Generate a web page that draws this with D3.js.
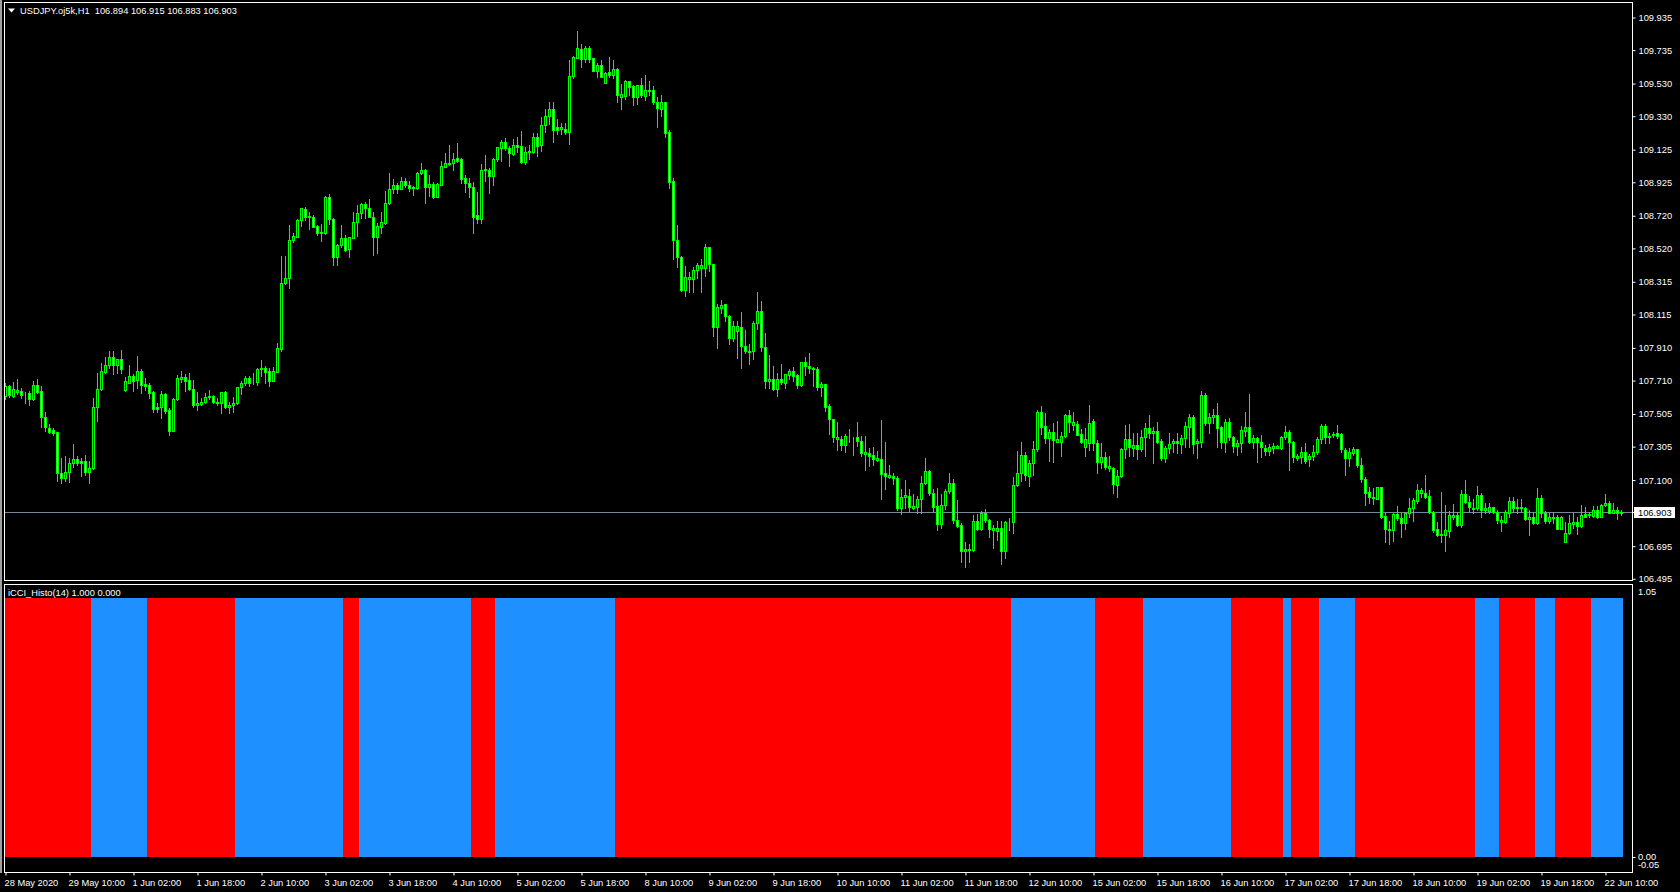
<!DOCTYPE html>
<html><head><meta charset="utf-8">
<script src="https://cdn.jsdelivr.net/npm/d3@7"></script>
<style>html,body{margin:0;padding:0;background:#000;overflow:hidden}svg text{font-family:"Liberation Sans",Arial,sans-serif;font-size:9.3px;white-space:pre}</style>
</head><body>
<svg id="c" width="1680" height="892"></svg>
<script>
// ---------- data ----------
const symbolTitle = "USDJPY.oj5k,H1";
const lastOHLC = [106.894, 106.915, 106.883, 106.903];
const currentPrice = 106.903;
const indicatorName = "iCCI_Histo(14)";
const indicatorValues = [1.000, 0.000];
// [open, high, low, close], one row per H1 bar, 28 May 2020 18:00 .. 22 Jun 2020 14:00
const ohlc = [
[107.613,107.690,107.592,107.674],[107.674,107.680,107.608,107.616],[107.612,107.696,107.604,107.655],[107.639,107.716,107.624,107.649],
[107.641,107.659,107.598,107.616],[107.618,107.639,107.567,107.620],[107.631,107.645,107.559,107.592],[107.592,107.704,107.588,107.680],
[107.680,107.716,107.629,107.639],[107.641,107.674,107.425,107.482],[107.482,107.513,107.400,107.420],[107.414,107.439,107.384,107.394],
[107.404,107.414,107.373,107.388],[107.390,107.394,107.094,107.139],[107.139,107.231,107.077,107.108],[107.108,107.245,107.094,107.145],
[107.145,107.231,107.088,107.200],[107.200,107.318,107.179,107.226],[107.226,107.247,107.190,107.200],[107.216,107.235,107.124,107.200],
[107.214,107.251,107.128,107.145],[107.145,107.214,107.081,107.169],[107.169,107.598,107.165,107.547],[107.543,107.751,107.461,107.655],
[107.655,107.813,107.649,107.766],[107.762,107.850,107.756,107.803],[107.803,107.888,107.782,107.850],[107.850,107.888,107.745,107.801],
[107.801,107.841,107.751,107.837],[107.837,107.894,107.751,107.776],[107.649,107.727,107.643,107.704],[107.694,107.803,107.690,107.735],
[107.735,107.747,107.645,107.706],[107.710,107.858,107.664,107.766],[107.766,107.778,107.633,107.680],[107.686,107.723,107.649,107.674],
[107.680,107.694,107.598,107.629],[107.635,107.643,107.516,107.531],[107.545,107.567,107.516,107.531],[107.547,107.643,107.480,107.623],
[107.623,107.629,107.506,107.523],[107.527,107.541,107.373,107.400],[107.400,107.598,107.396,107.592],[107.592,107.741,107.588,107.721],
[107.719,107.766,107.698,107.727],[107.727,107.745,107.643,107.706],[107.710,107.751,107.649,107.655],[107.653,107.710,107.543,107.557],
[107.555,107.637,107.527,107.567],[107.563,107.598,107.557,107.578],[107.574,107.629,107.567,107.604],[107.604,107.649,107.596,107.612],
[107.612,107.616,107.567,107.578],[107.578,107.598,107.557,107.570],[107.572,107.637,107.510,107.635],[107.635,107.643,107.537,107.543],
[107.547,107.578,107.510,107.557],[107.557,107.608,107.516,107.567],[107.567,107.670,107.563,107.666],[107.666,107.706,107.625,107.690],
[107.690,107.735,107.680,107.721],[107.721,107.735,107.674,107.694],[107.694,107.751,107.686,107.690],[107.698,107.786,107.680,107.776],
[107.780,107.833,107.735,107.786],[107.782,107.798,107.694,107.762],[107.768,107.782,107.674,107.706],[107.706,107.788,107.702,107.766],
[107.762,107.935,107.758,107.905],[107.899,108.471,107.890,108.303],[108.303,108.471,108.299,108.334],[108.334,108.661,108.274,108.569],
[108.569,108.610,108.558,108.593],[108.589,108.699,108.585,108.691],[108.691,108.767,108.654,108.763],[108.759,108.773,108.691,108.708],
[108.716,108.740,108.638,108.710],[108.708,108.722,108.646,108.650],[108.654,108.661,108.599,108.614],[108.610,108.667,108.565,108.616],
[108.610,108.838,108.606,108.830],[108.830,108.851,108.667,108.695],[108.695,108.701,108.416,108.462],[108.462,108.544,108.416,108.536],
[108.536,108.661,108.528,108.579],[108.579,108.599,108.501,108.507],[108.511,108.589,108.467,108.585],[108.583,108.742,108.579,108.677],
[108.677,108.783,108.595,108.736],[108.736,108.797,108.701,108.787],[108.787,108.799,108.701,108.763],[108.763,108.820,108.708,108.708],
[108.708,108.742,108.477,108.585],[108.585,108.675,108.491,108.654],[108.650,108.742,108.614,108.677],[108.675,108.869,108.665,108.793],
[108.793,108.977,108.789,108.879],[108.879,108.940,108.855,108.904],[108.904,108.920,108.855,108.883],[108.883,108.957,108.879,108.930],
[108.932,108.947,108.896,108.904],[108.904,108.932,108.869,108.885],[108.885,108.902,108.847,108.891],[108.889,108.983,108.883,108.977],
[108.977,109.038,108.973,108.998],[108.998,109.002,108.797,108.896],[108.896,108.967,108.838,108.914],[108.914,108.926,108.828,108.834],
[108.834,108.916,108.830,108.912],[108.908,109.053,108.904,109.022],[109.018,109.100,109.014,109.039],[109.037,109.151,109.028,109.043],
[109.039,109.104,108.998,109.063],[109.069,109.161,109.049,109.055],[109.063,109.069,108.916,108.945],[108.947,108.967,108.863,108.920],
[108.920,108.947,108.830,108.891],[108.891,108.926,108.614,108.712],[108.722,108.865,108.671,108.695],[108.695,109.034,108.675,108.998],
[108.998,109.090,108.932,109.004],[108.998,109.008,108.859,108.963],[108.963,109.069,108.906,109.065],[109.063,109.141,109.055,109.137],
[109.130,109.182,109.055,109.171],[109.171,109.192,109.120,109.130],[109.130,109.145,109.022,109.100],[109.096,109.186,109.090,109.151],
[109.151,109.198,109.110,109.141],[109.145,109.237,109.039,109.049],[109.049,109.141,109.034,109.110],[109.106,109.151,109.063,109.114],
[109.110,109.227,109.104,109.202],[109.202,109.227,109.083,109.145],[109.149,109.321,109.116,109.271],[109.275,109.374,109.230,109.331],
[109.331,109.417,109.280,109.370],[109.370,109.413,109.166,109.241],[109.258,109.310,109.215,109.241],[109.250,109.288,109.215,109.258],
[109.247,109.284,109.220,109.228],[109.228,109.671,109.159,109.574],[109.574,109.699,109.559,109.688],[109.686,109.849,109.682,109.742],
[109.740,109.768,109.628,109.677],[109.680,109.757,109.660,109.748],[109.748,109.757,109.660,109.677],[109.682,109.686,109.602,109.607],
[109.607,109.654,109.568,109.639],[109.639,109.671,109.568,109.570],[109.531,109.596,109.531,109.591],[109.596,109.688,109.568,109.579],
[109.579,109.671,109.559,109.615],[109.615,109.622,109.413,109.456],[109.447,109.525,109.374,109.462],[109.452,109.546,109.435,109.542],
[109.542,109.542,109.456,109.508],[109.512,109.521,109.396,109.445],[109.445,109.521,109.402,109.516],[109.516,109.559,109.445,109.456],
[109.452,109.579,109.428,109.486],[109.484,109.542,109.456,109.488],[109.486,109.510,109.402,109.413],[109.417,109.445,109.262,109.379],
[109.374,109.456,109.331,109.413],[109.413,109.413,109.198,109.226],[109.230,109.241,108.886,108.925],[108.929,108.946,108.452,108.566],
[108.566,108.661,108.403,108.467],[108.467,108.471,108.256,108.263],[108.263,108.407,108.224,108.342],[108.327,108.370,108.252,108.342],
[108.327,108.403,108.252,108.387],[108.387,108.430,108.338,108.413],[108.398,108.450,108.252,108.413],[108.398,108.542,108.349,108.525],
[108.525,108.525,108.381,108.420],[108.420,108.424,107.979,108.033],[108.033,108.177,107.908,108.155],[108.153,108.203,108.123,108.170],
[108.175,108.175,108.069,108.102],[108.102,108.110,107.934,107.966],[107.966,108.071,107.951,108.041],[108.011,108.069,107.844,108.041],
[108.036,108.127,107.786,107.917],[107.919,108.016,107.876,107.887],[107.884,107.930,107.811,107.891],[107.887,108.069,107.837,108.059],
[108.059,108.248,108.020,108.134],[108.134,108.194,107.887,107.912],[107.912,107.998,107.661,107.702],[107.702,107.861,107.661,107.715],
[107.715,107.796,107.646,107.656],[107.656,107.753,107.611,107.715],[107.715,107.811,107.684,107.697],[107.693,107.747,107.661,107.745],
[107.742,107.779,107.715,107.766],[107.766,107.790,107.704,107.736],[107.742,107.747,107.661,107.682],[107.678,107.818,107.676,107.818],
[107.818,107.854,107.740,107.796],[107.796,107.876,107.753,107.783],[107.783,107.790,107.672,107.775],[107.779,107.790,107.650,107.665],
[107.665,107.697,107.611,107.687],[107.687,107.687,107.521,107.547],[107.549,107.564,107.381,107.469],[107.469,107.469,107.332,107.360],
[107.347,107.452,107.280,107.360],[107.349,107.366,107.280,107.310],[107.312,107.381,107.272,107.366],[107.358,107.409,107.328,107.364],
[107.360,107.360,107.252,107.358],[107.358,107.452,107.306,107.336],[107.338,107.366,107.246,107.263],[107.259,107.366,107.160,107.270],
[107.263,107.295,107.181,107.246],[107.248,107.302,107.192,107.224],[107.220,107.274,107.216,107.231],[107.224,107.465,106.984,107.134],
[107.138,107.332,107.044,107.123],[107.113,107.188,107.108,107.128],[107.121,107.138,107.070,107.108],[107.108,107.123,106.915,106.928],
[106.928,107.044,106.891,106.994],[106.994,107.095,106.923,107.005],[106.999,107.042,106.904,106.930],[106.923,107.009,106.919,106.936],
[106.930,107.001,106.893,106.979],[106.979,107.123,106.893,107.080],[107.080,107.231,107.074,107.151],[107.151,107.156,107.005,107.016],
[107.016,107.044,106.902,106.934],[106.936,107.048,106.790,106.829],[106.829,107.009,106.801,106.945],[106.945,107.044,106.919,107.031],
[107.027,107.138,107.016,107.080],[107.082,107.102,106.833,106.854],[106.854,106.973,106.807,106.816],[106.822,106.833,106.592,106.661],
[106.661,106.715,106.564,106.674],[106.667,106.704,106.597,106.676],[106.670,106.880,106.661,106.844],[106.844,106.887,106.790,106.797],
[106.797,106.908,106.790,106.898],[106.898,106.919,106.837,106.850],[106.850,106.859,106.751,106.797],[106.794,106.822,106.683,106.801],
[106.786,106.844,106.730,106.805],[106.801,106.844,106.584,106.665],[106.665,106.846,106.622,106.837],[106.837,106.865,106.790,106.842],
[106.842,107.113,106.773,107.065],[107.065,107.274,107.059,107.138],[107.138,107.328,107.091,107.250],[107.250,107.267,107.097,107.130],
[107.123,107.220,107.059,107.203],[107.203,107.338,107.130,107.289],[107.285,107.525,107.274,107.515],[107.515,107.551,107.381,107.424],
[107.429,107.510,107.323,107.355],[107.355,107.413,107.216,107.392],[107.392,107.446,107.209,107.345],[107.332,107.456,107.328,107.349],
[107.332,107.392,107.246,107.366],[107.366,107.504,107.360,107.495],[107.495,107.525,107.392,107.450],[107.435,107.515,107.403,107.450],
[107.439,107.456,107.371,107.375],[107.379,107.408,107.322,107.332],[107.300,107.414,107.244,107.346],[107.322,107.557,107.281,107.444],
[107.461,107.469,107.281,107.322],[107.322,107.342,107.142,107.209],[107.209,107.326,107.169,107.236],[107.236,107.271,107.162,107.175],
[107.169,107.244,107.154,107.183],[107.169,107.175,107.019,107.071],[107.069,107.158,106.995,107.124],[107.124,107.291,107.118,107.287],
[107.287,107.434,107.230,107.346],[107.346,107.440,107.244,107.301],[107.295,107.383,107.244,107.310],[107.310,107.387,107.224,107.285],
[107.285,107.404,107.277,107.363],[107.359,107.448,107.244,107.414],[107.414,107.495,107.357,107.387],[107.387,107.424,107.203,107.397],
[107.397,107.453,107.322,107.330],[107.336,107.346,107.220,107.234],[107.234,107.305,107.207,107.291],[107.291,107.383,107.265,107.318],
[107.322,107.346,107.271,107.336],[107.336,107.387,107.265,107.322],[107.320,107.373,107.265,107.352],[107.352,107.451,107.301,107.428],
[107.424,107.502,107.301,107.481],[107.481,107.495,107.265,107.316],[107.322,107.346,107.230,107.336],[107.332,107.643,107.301,107.618],
[107.618,107.632,107.434,107.444],[107.444,107.510,107.387,107.481],[107.481,107.530,107.444,107.495],[107.495,107.571,107.297,107.418],
[107.420,107.428,107.291,107.328],[107.328,107.469,107.271,107.455],[107.455,107.475,107.342,107.359],[107.359,107.367,107.271,107.305],
[107.305,107.342,107.252,107.326],[107.322,107.428,107.271,107.404],[107.399,107.514,107.367,107.420],[107.420,107.624,107.322,107.332],
[107.332,107.373,107.291,107.352],[107.352,107.359,107.209,107.332],[107.332,107.373,107.240,107.297],[107.291,107.310,107.250,107.277],
[107.277,107.318,107.250,107.297],[107.293,107.326,107.261,107.305],[107.293,107.312,107.291,107.305],[107.291,107.367,107.285,107.363],
[107.363,107.430,107.346,107.393],[107.393,107.404,107.158,107.332],[107.330,107.338,107.209,107.240],[107.234,107.256,107.220,107.244],
[107.240,107.301,107.203,107.271],[107.271,107.326,107.203,107.216],[107.224,107.256,107.185,107.244],[107.244,107.312,107.220,107.271],
[107.271,107.363,107.256,107.346],[107.346,107.440,107.322,107.428],[107.428,107.440,107.326,107.359],[107.359,107.387,107.326,107.367],
[107.371,107.393,107.359,107.377],[107.387,107.434,107.352,107.367],[107.377,107.383,107.271,107.285],[107.281,107.291,107.128,107.230],
[107.230,107.295,107.183,107.269],[107.265,107.301,107.250,107.285],[107.285,107.289,107.175,107.189],[107.189,107.230,107.087,107.101],
[107.101,107.113,106.944,107.019],[107.024,107.056,106.954,106.991],[106.995,107.046,106.950,106.985],[106.983,107.056,106.979,107.052],
[107.052,107.052,106.862,106.872],[106.876,106.897,106.719,106.795],[106.795,106.848,106.703,106.789],[106.789,106.897,106.725,106.889],
[106.889,106.938,106.852,106.862],[106.864,106.893,106.750,106.831],[106.831,106.903,106.799,106.897],[106.893,106.985,106.872,106.923],
[106.923,106.985,106.848,106.975],[106.970,107.073,106.954,107.036],[107.019,107.046,106.991,107.036],[107.019,107.128,106.985,106.995],
[106.999,107.036,106.897,106.903],[106.903,106.909,106.780,106.791],[106.795,106.842,106.754,106.760],[106.760,107.022,106.719,106.766],
[106.760,106.944,106.664,106.791],[106.787,106.907,106.750,106.883],[106.872,106.950,106.856,106.883],[106.883,106.903,106.815,106.821],
[106.821,107.036,106.811,107.011],[107.011,107.097,106.958,106.962],[106.962,106.999,106.903,106.934],[106.921,106.979,106.893,106.928],
[106.923,107.060,106.913,107.005],[107.005,107.015,106.868,106.913],[106.913,106.958,106.897,106.923],[106.909,106.958,106.893,106.934],
[106.930,106.934,106.893,106.903],[106.903,106.913,106.832,106.852],[106.842,106.876,106.787,106.852],[106.842,106.913,106.832,106.899],
[106.897,106.995,106.868,106.970],[106.970,106.991,106.903,106.923],[106.923,106.979,106.893,106.932],[106.934,106.979,106.909,106.923],
[106.923,106.930,106.852,106.856],[106.856,106.913,106.760,106.872],[106.872,106.903,106.827,106.831],[106.831,107.048,106.827,106.985],
[106.985,107.005,106.868,106.897],[106.897,106.909,106.836,106.844],[106.844,106.893,106.832,106.872],[106.866,106.903,106.836,106.872],
[106.868,106.883,106.795,106.799],[106.799,106.876,106.795,106.868],[106.719,106.842,106.719,106.774],[106.770,106.883,106.766,106.832],
[106.827,106.897,106.801,106.842],[106.842,106.872,106.766,106.815],[106.815,106.944,106.811,106.883],[106.889,106.934,106.868,106.872],
[106.885,106.903,106.868,106.891],[106.879,106.938,106.868,106.913],[106.913,106.938,106.862,106.872],[106.872,106.950,106.868,106.944],
[106.944,107.011,106.938,106.954],[106.954,106.970,106.893,106.897],[106.897,106.958,106.893,106.913],[106.913,106.930,106.856,106.893],
[106.894,106.915,106.883,106.903]
];
// iCCI_Histo state, run-length: [direction, number of bars]
const histoRuns = [
["down",22],["up",14],["down",22],["up",27],["down",4],["up",28],["down",6],["up",30],["down",99],["up",21],["down",12],
["up",22],["down",13],["up",2],["down",7],["up",9],["down",30],["up",6],["down",9],["up",5],["down",9],["up",8]
];
const priceTicks = [109.935,109.735,109.530,109.330,109.125,108.925,108.720,108.520,108.315,108.115,107.910,107.710,107.505,107.305,107.100,106.695,106.495];
const indicatorTicks = [1.05, 0.00, -0.05];
const timeLabels = ["28 May 2020","29 May 10:00","1 Jun 02:00","1 Jun 18:00","2 Jun 10:00","3 Jun 02:00","3 Jun 18:00","4 Jun 10:00",
"5 Jun 02:00","5 Jun 18:00","8 Jun 10:00","9 Jun 02:00","9 Jun 18:00","10 Jun 10:00","11 Jun 02:00","11 Jun 18:00","12 Jun 10:00",
"15 Jun 02:00","15 Jun 18:00","16 Jun 10:00","17 Jun 02:00","17 Jun 18:00","18 Jun 10:00","19 Jun 02:00","19 Jun 18:00","22 Jun 10:00"];
const timeLabelStep = 16; // bars between time labels

// ---------- layout ----------
const W = 1680, H = 892;
const L = 4.5, R = 1632.5;
const mainTop = 2.5, mainBot = 580.5, indTop = 584.5, indBot = 872.5;
const FG = "#ffffff", BULL = "#00ff00", UP = "#1e90ff", DOWN = "#ff0000";
const fmt3 = v => v.toFixed(3), fmt2 = v => v.toFixed(2);

const svg = d3.select("#c");
svg.append("rect").attr("width", W).attr("height", H).attr("fill", "#000");

const x = d3.scaleLinear().domain([0, 1]).range([5, 9]); // 4px per bar
const y = d3.scaleLinear().domain([106.495, 109.935]).range([578.3, 17]);
const yi = d3.scaleLinear().domain([0, 1]).range([857.3, 598.3]);

const defs = svg.append("defs");
defs.append("clipPath").attr("id", "clipMain").append("rect")
  .attr("x", 5).attr("y", mainTop + 0.5).attr("width", R - 5.5).attr("height", mainBot - mainTop - 1);
defs.append("clipPath").attr("id", "clipInd").append("rect")
  .attr("x", 5).attr("y", indTop + 0.5).attr("width", R - 5.5).attr("height", indBot - indTop - 1);

// window chrome on the left
svg.append("rect").attr("x", 0).attr("y", 0).attr("width", 2).attr("height", indBot + 0.5).attr("fill", "#a0a0a0");

// ---------- main panel ----------
const gMain = svg.append("g").attr("clip-path", "url(#clipMain)");
const bars = ohlc.map((d, i) => ({i, o: d[0], h: d[1], l: d[2], c: d[3]}));

// current price line
const yc = Math.round(y(currentPrice)) + 0.5;
gMain.append("line").attr("x1", 5).attr("x2", R).attr("y1", yc).attr("y2", yc)
  .attr("stroke", "#778899").attr("stroke-width", 1);

// wicks
gMain.selectAll("rect.wick").data(bars).join("rect").attr("class", "wick")
  .attr("x", d => Math.round(x(d.i)))
  .attr("y", d => Math.round(y(d.h)))
  .attr("width", 1)
  .attr("height", d => Math.max(1, Math.round(y(d.l)) - Math.round(y(d.h)) + 1))
  .attr("fill", BULL);

// bodies
gMain.selectAll("rect.body").data(bars).join("rect").attr("class", "body")
  .attr("x", d => Math.round(x(d.i)) - 0.5)
  .attr("y", d => Math.round(y(Math.max(d.o, d.c))) + 0.5)
  .attr("width", 2)
  .attr("height", d => Math.max(0, Math.round(y(Math.min(d.o, d.c))) - Math.round(y(Math.max(d.o, d.c)))))
  .attr("fill", d => d.c >= d.o ? "#000" : "#fff")
  .attr("stroke", BULL).attr("stroke-width", 1)
  .attr("shape-rendering", "crispEdges");

// ---------- indicator panel ----------
const histo = [];
histoRuns.forEach(([dir, n]) => { for (let k = 0; k < n; k++) histo.push({i: histo.length, dir, up: dir === "up" ? 1 : 0, down: dir === "down" ? 1 : 0}); });
const gInd = svg.append("g").attr("clip-path", "url(#clipInd)");
gInd.selectAll("rect.h").data(histo).join("rect").attr("class", "h")
  .attr("x", d => x(d.i) - 2)
  .attr("width", 4)
  .attr("y", d => Math.round(yi(Math.max(d.up, d.down))))
  .attr("height", d => Math.round(yi(0)) - Math.round(yi(Math.max(d.up, d.down))))
  .attr("fill", d => d.dir === "up" ? UP : DOWN)
  .attr("shape-rendering", "crispEdges");

// ---------- frames ----------
function frame(t, b) {
  svg.append("rect").attr("x", L).attr("y", t).attr("width", R - L).attr("height", b - t)
    .attr("fill", "none").attr("stroke", FG).attr("stroke-width", 1);
}
frame(mainTop, mainBot);
frame(indTop, indBot);

// ---------- price axis ----------
const ax = d3.axisRight(y).tickValues(priceTicks).tickFormat(fmt3).tickSize(3).tickPadding(3);
const gAx = svg.append("g").attr("transform", `translate(${R},0.5)`).call(ax);
gAx.select(".domain").remove();
gAx.selectAll(".tick line").attr("stroke", FG);
gAx.selectAll(".tick text").attr("fill", FG).attr("font-family", null).attr("font-size", null);

// current price label
svg.append("rect").attr("x", R + 1.5).attr("y", yc - 5.5).attr("width", 41).attr("height", 11).attr("fill", "#fff");
svg.append("line").attr("x1", R).attr("x2", R + 3).attr("y1", yc).attr("y2", yc).attr("stroke", FG);
svg.append("text").attr("x", R + 5.5).attr("y", yc).attr("dy", "0.34em").attr("fill", "#000")
  .text(fmt3(currentPrice));

// ---------- indicator axis ----------
indicatorTicks.forEach(v => {
  const yy = Math.max(indTop + 7, Math.min(indBot - 7.5, yi(v)));
  svg.append("text").attr("x", R + 5.5).attr("y", yy).attr("dy", "0.34em").attr("fill", FG)
    .text(fmt2(v));
});
svg.append("line").attr("x1", R).attr("x2", R + 3).attr("y1", Math.round(yi(0)) + 0.5).attr("y2", Math.round(yi(0)) + 0.5).attr("stroke", FG);

// ---------- time axis ----------
const tickIdx = timeLabels.map((t, k) => k * timeLabelStep);
const xAx = d3.axisBottom(x).tickValues(tickIdx).tickFormat((d, k) => timeLabels[k]).tickSize(3).tickPadding(4);
const gX = svg.append("g").attr("transform", `translate(0.5,${indBot})`).call(xAx);
gX.select(".domain").remove();
gX.selectAll(".tick line").attr("stroke", FG);
gX.selectAll(".tick text").attr("fill", FG).attr("text-anchor", "start").attr("x", -1.5)
  .attr("font-family", null).attr("font-size", null);

// ---------- titles ----------
svg.append("path").attr("d", "M8,8.5 L15,8.5 L11.5,12.5 Z").attr("fill", FG);
svg.append("text").attr("x", 20).attr("y", 14).attr("fill", FG)
  .text(symbolTitle + "  " + lastOHLC.map(fmt3).join(" "));
svg.append("text").attr("x", 8).attr("y", 596).attr("fill", FG)
  .text(indicatorName + " " + indicatorValues.map(fmt3).join(" "));
</script>
</body></html>
